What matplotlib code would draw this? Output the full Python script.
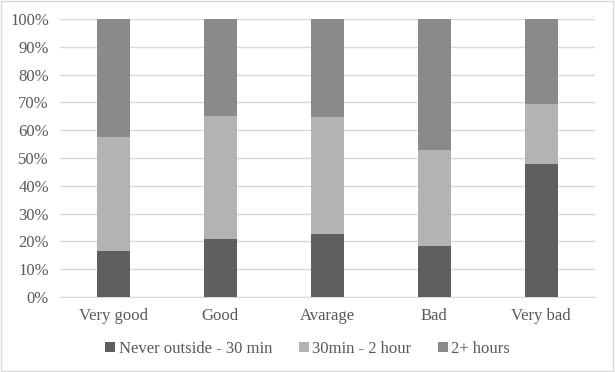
import matplotlib
matplotlib.use("Agg")
import matplotlib.pyplot as plt
from matplotlib.patches import Rectangle
from matplotlib.ticker import PercentFormatter

categories = ["Very good", "Good", "Avarage", "Bad", "Very bad"]
never_30 = [16.5, 20.9, 22.7, 18.2, 47.7]
min30_2h = [41.2, 44.2, 42.2, 34.7, 21.7]
hours2 = [100 - a - b for a, b in zip(never_30, min30_2h)]
series_names = ["Never outside - 30 min", "30min - 2 hour", "2+ hours"]
colors = ["#5f5f5f", "#b3b3b3", "#8a8a8a"]

plt.rcParams['font.family'] = ['Liberation Serif', 'DejaVu Serif']

fig = plt.figure(figsize=(6.15, 3.72), dpi=100)
ax = fig.add_axes([0.0976, 0.2016, 0.8694, 0.7474])

x = range(len(categories))
bottom = [0] * len(categories)
for vals, name, c in zip([never_30, min30_2h, hours2], series_names, colors):
    ax.bar(x, vals, width=0.31, bottom=bottom, color=c, label=name, zorder=3)
    bottom = [b + v for b, v in zip(bottom, vals)]

ax.set_ylim(0, 100)
ax.set_xlim(-0.5, len(categories) - 0.5)
ax.set_yticks(range(0, 101, 10))
ax.yaxis.set_major_formatter(PercentFormatter(decimals=0))
ax.set_xticks(list(x))
ax.set_xticklabels(categories)
ax.grid(axis='y', color='#d9d9d9', linewidth=1, zorder=0)
for s in ['top', 'right', 'left']:
    ax.spines[s].set_visible(False)
ax.spines['bottom'].set_color('#d9d9d9')
ax.tick_params(axis='both', length=0, labelsize=12, colors='#595959', pad=8)
ax.tick_params(axis='x', pad=8)

leg = fig.legend(loc='center', bbox_to_anchor=(0.5, 0.062), ncol=3, frameon=False,
                 fontsize=12, handlelength=0.6, handleheight=0.6, handletextpad=0.2,
                 columnspacing=1.6, labelcolor='#595959')

fig.patches.append(Rectangle((0.002, 0.003), 0.995, 0.994, transform=fig.transFigure,
                             fill=False, edgecolor='#d9d9d9', linewidth=1))
fig.savefig("out.png", dpi=100)
